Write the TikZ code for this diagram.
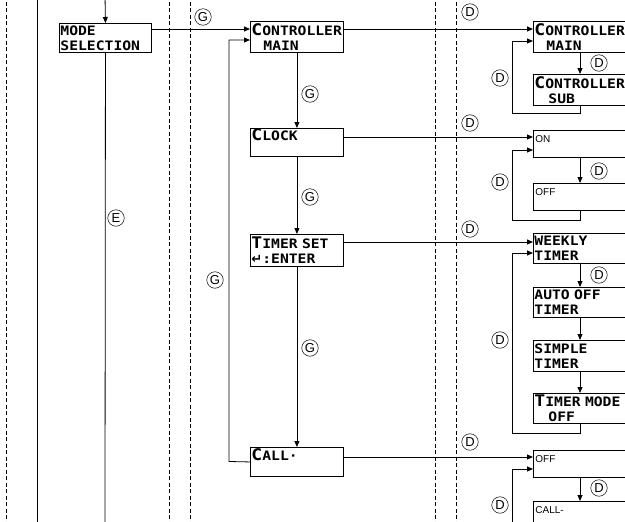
\documentclass[tikz,border=0pt]{standalone}
\usepackage{fontspec}
\setmainfont{Liberation Sans}
\newfontfamily\lcdfont{DejaVu Sans Mono}[FakeStretch=1.13]
\newfontfamily\symfont{DejaVu Sans}
\usetikzlibrary{arrows.meta,calc}
\newcommand\lcdbig[1]{{\fontsize{16}{15}\selectfont #1}}
\tikzset{
  lcd/.style={draw, line width=0.9pt, anchor=north west, inner xsep=1pt, inner ysep=0pt,
    align=left, font=\lcdfont\bfseries\fontsize{13}{15}\selectfont, text width=91pt, minimum height=#1},
  lcdr/.style={lcd=#1, text width=105pt},
  smallbox/.style={lcdr=#1, inner xsep=2pt, text width=103pt, font=\fontsize{10}{10.2}\selectfont},
  lab/.style={circle, draw, line width=0.5pt, inner sep=0pt, minimum size=16.5pt, font=\fontsize{13}{13}\selectfont},
  conn/.style={line width=0.8pt},
  arr/.style={conn, -{Triangle[length=6pt,width=5pt]}},
  dashline/.style={line width=1pt, dash pattern=on 4pt off 2.5pt},
}
\begin{document}
\begin{tikzpicture}[x=1pt,y=-1pt]
\useasboundingbox (0,0) rectangle (625,522);
\clip (0,0) rectangle (625,522);
% dashed separators
\draw[dashline] (6,-5) -- (6,530);
\draw[dashline] (169,-5) -- (169,530);
\draw[dashline] (190,-5) -- (190,530);
\draw[dashline] (435,-5) -- (435,530);
\draw[dashline] (456,-5) -- (456,530);
% left column
\coordinate (l1t) at (37,-5);
\coordinate (l1b) at (37,530);
\draw[conn] (l1t) -- (l1b);
\node[lcd=29pt, text width=90pt] (mode) at (59,23) {MODE\\SELECTION};
\coordinate (modein) at (105,-5);
\coordinate (modebot) at (105,530);
\draw[arr] (modein) -- (mode.north);
\draw[conn] (mode.south) -- (modebot);
\node[lab] (e1) at (116,218) {E};
% middle column
\node[lcd=31pt] (cm) at (250,21) {\lcdbig{C}ONTROLLER\\\hspace*{12pt}MAIN};
\node[lcd=28pt] (clock) at (250,128) {\lcdbig{C}LOCK\\\phantom{X}};
\node[lcd=32pt] (tset) at (250,234) {\lcdbig{T}IMER SET\\{\symfont\bfseries ↵}:ENTER};
\node[lcd=29pt] (call) at (250,447) {\lcdbig{C}ALL·\\\phantom{X}};
\draw[arr] ([yshift=-6pt]mode.north east) -- ([yshift=-6pt]mode.north east -| cm.west);
\draw[arr] (cm.south) -- (clock.north);
\draw[arr] (clock.south) -- (tset.north);
\draw[arr] (tset.south) -- (call.north);
\coordinate (gloop) at (229,461.5);
\draw[arr] (call.west) -- (gloop) |- ([yshift=-19pt]cm.north west);
\node[lab] (g1) at (203,17) {G};
\node[lab] (g2) at (310,94) {G};
\node[lab] (g3) at (310,197) {G};
\node[lab] (g4) at (310,348) {G};
\node[lab] (g5) at (215,280) {G};
% right column
\node[lcdr=31pt] (rcm) at (533,21) {\lcdbig{C}ONTROLLER\\\hspace*{12pt}MAIN};
\node[lcdr=31pt] (rcs) at (533,74) {\lcdbig{C}ONTROLLER\\\hspace*{14pt}SUB};
\node[smallbox=27pt] (on) at (533,130) {ON\\\phantom{X}};
\node[smallbox=27pt] (off) at (533,183) {OFF\\\phantom{X}};
\node[lcdr=30pt] (wk) at (533,233) {WEEKLY\\TIMER};
\node[lcdr=30pt] (ao) at (533,287) {AUTO OFF\\TIMER};
\node[lcdr=31pt] (st) at (533,340) {SIMPLE\\TIMER};
\node[lcdr=30pt] (tmo) at (533,393) {\lcdbig{T}IMER MODE\\\hspace*{14pt}OFF};
\node[smallbox=27pt] (off2) at (533,450) {OFF\\\phantom{X}};
\node[smallbox=27pt] (callm) at (533,501) {CALL-\\\phantom{X}};
% middle -> right
\draw[arr] ([yshift=-8pt]cm.north east) -- ([yshift=-8pt]cm.north east -| rcm.west);
\draw[arr] ([yshift=-9pt]clock.north east) -- ([yshift=-9pt]clock.north east -| on.west);
\draw[arr] ([yshift=-8pt]tset.north east) -- ([yshift=-8pt]tset.north east -| wk.west);
\draw[arr] ([yshift=-10pt]call.north east) -- ([yshift=-10pt]call.north east -| off2.west);
\node[lab] (d1) at (470,12) {D};
\node[lab] (d2) at (470,123) {D};
\node[lab] (d3) at (470,229) {D};
\node[lab] (d4) at (470,442) {D};
% group 1
\draw[arr] ([xshift=47pt]rcm.south west) -- ([xshift=47pt]rcs.north west);
\coordinate (c1) at (512,113);
\draw[arr] ([xshift=47pt]rcs.south west) |- (c1) |- ([yshift=-20pt]rcm.north west);
\node[lab] (d5) at (599,63) {D};
\node[lab] (d6) at (500,78) {D};
% group 2
\draw[arr] ([xshift=47pt]on.south west) -- ([xshift=47pt]off.north west);
\coordinate (c2) at (512,220);
\draw[arr] ([xshift=47pt]off.south west) |- (c2) |- ([yshift=-20pt]on.north west);
\node[lab] (d7) at (599,171) {D};
\node[lab] (d8) at (500,182) {D};
% group 3
\draw[arr] ([xshift=47pt]wk.south west) -- ([xshift=47pt]ao.north west);
\draw[arr] ([xshift=47pt]ao.south west) -- ([xshift=47pt]st.north west);
\draw[arr] ([xshift=47pt]st.south west) -- ([xshift=47pt]tmo.north west);
\coordinate (c3) at (512,433);
\draw[arr] ([xshift=47pt]tmo.south west) |- (c3) |- ([yshift=-20pt]wk.north west);
\node[lab] (d9) at (599,275) {D};
\node[lab] (d10) at (500,340) {D};
% group 4
\draw[arr] ([xshift=47pt]off2.south west) -- ([xshift=47pt]callm.north west);
\coordinate (c4) at (512,530);
\draw[arr] (c4) |- ([yshift=-19pt]off2.north west);
\node[lab] (d11) at (599,488) {D};
\node[lab] (d12) at (500,505) {D};
\end{tikzpicture}
\end{document}
